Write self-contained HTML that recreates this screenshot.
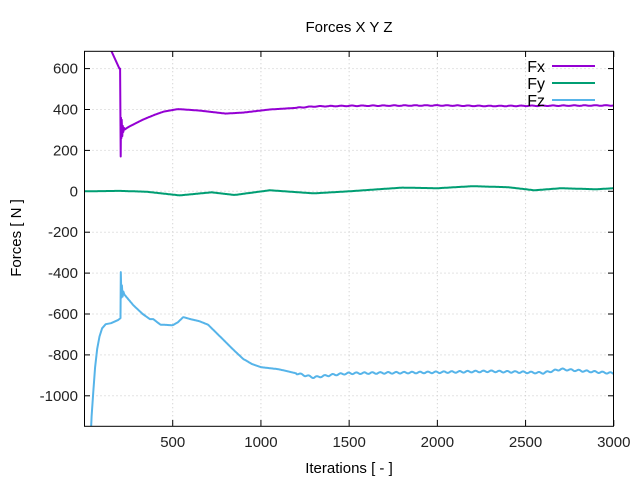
<!DOCTYPE html>
<html><head><meta charset="utf-8"><style>
body{margin:0;background:#fff;}
svg{display:block;font-family:"Liberation Sans",sans-serif;}
</style></head><body>
<svg id="s" width="640" height="480" xmlns="http://www.w3.org/2000/svg">
<rect width="640" height="480" fill="#fff"/>
<g id="grid" stroke="#c8c8c8" stroke-width="1" stroke-dasharray="1,3"></g>
<g id="ticks" font-size="15" fill="#222"></g>
<clipPath id="c"><rect x="84.5" y="51.3" width="529" height="375"/></clipPath>
<g clip-path="url(#c)" fill="none" stroke-width="2" stroke-linejoin="round">
<path id="fx" stroke="#9400d3"/>
<path id="fy" stroke="#009e73"/>
<path id="fz" stroke="#56b4e9"/>
</g>
<rect x="84.5" y="51.3" width="529" height="375" fill="none" stroke="#000" stroke-width="1"/>
<text x="349" y="32" font-size="15" text-anchor="middle">Forces X Y Z</text>
<text x="349" y="473" font-size="15" text-anchor="middle">Iterations [ - ]</text>
<text x="21" y="238" font-size="15" text-anchor="middle" transform="rotate(-90 21 238)">Forces [ N ]</text>
<g font-size="16">
<text x="545" y="72" text-anchor="end">Fx</text>
<text x="545" y="89" text-anchor="end">Fy</text>
<text x="545" y="106" text-anchor="end">Fz</text>
</g>
<line x1="552" y1="66" x2="595" y2="66" stroke="#9400d3" stroke-width="2"/>
<line x1="552" y1="83" x2="595" y2="83" stroke="#009e73" stroke-width="2"/>
<line x1="552" y1="100" x2="595" y2="100" stroke="#56b4e9" stroke-width="2"/>
</svg>
<script>
var X=function(i){return 84.5+i*0.17643;},Y=function(v){return 191.3-v*0.2045;};
var g=document.getElementById('grid'),t=document.getElementById('ticks'),ns="http://www.w3.org/2000/svg";
function el(p,n,a,tx){var e=document.createElementNS(ns,n);for(var k in a)e.setAttribute(k,a[k]);if(tx)e.textContent=tx;p.appendChild(e);return e;}
for(var v=-1000;v<=600;v+=200){var y=Y(v);el(g,'line',{x1:84.5,x2:613.5,y1:y,y2:y});
el(t,'text',{x:78,y:y+5,'text-anchor':'end'},String(v));
el(t,'line',{x1:84.5,x2:90,y1:y,y2:y,stroke:'#000'});el(t,'line',{x1:608,x2:613.5,y1:y,y2:y,stroke:'#000'});}
for(var i=500;i<=3000;i+=500){var x=X(i);if(i<3000)el(g,'line',{x1:x,x2:x,y1:51.3,y2:426});
el(t,'text',{x:x,y:447,'text-anchor':'middle'},String(i));
el(t,'line',{x1:x,x2:x,y1:426,y2:420,stroke:'#000'});el(t,'line',{x1:x,x2:x,y1:51.3,y2:57,stroke:'#000'});}
function interp(pts,i){for(var k=1;k<pts.length;k++){if(i<=pts[k][0]){var a=pts[k-1],b=pts[k];return a[1]+(b[1]-a[1])*(i-a[0])/(b[0]-a[0]);}}return pts[pts.length-1][1];}
function build(pre,smooth,start,wig,per){var d='';pre.forEach(function(p){d+=(d?'L':'M')+X(p[0]).toFixed(1)+','+Y(p[1]).toFixed(1);});
for(var i=start;i<=3000;i+=4){var v=interp(smooth,i)+(i>1200?wig*Math.sin(i/per*6.283):0);d+=(d?'L':'M')+X(i).toFixed(1)+','+Y(v).toFixed(1);}return d;}
document.getElementById('fx').setAttribute('d',build(
[[130,760],[150,690],[198,600],[202,600],[205,170],[207,360],[209,260],[211,350],[214,270],[217,320],[220,290],[224,310]],
[[224,300],[250,315],[330,350],[400,375],[450,390],[530,402],[650,395],[800,380],[900,385],[1050,400],[1200,408],[1300,415],[1500,418],[2000,420],[2300,417],[2500,418],[3000,420]],
228,1.5,60));
document.getElementById('fy').setAttribute('d',build([],
[[0,0],[200,2],[350,-2],[540,-20],[720,-5],[850,-18],[1050,5],[1300,-10],[1500,0],[1800,18],[2000,15],[2200,25],[2400,20],[2550,5],[2700,15],[2900,10],[3000,15]],
0,0,100));
document.getElementById('fz').setAttribute('d',build(
[[30,-1300],[40,-1100],[50,-980],[60,-860],[72,-770],[85,-710],[100,-670],[120,-650],[150,-645],[190,-630],[204,-620],[206,-395],[209,-520],[212,-460],[216,-515],[220,-490],[226,-505]],
[[226,-505],[280,-560],[330,-600],[370,-625],[390,-625],[430,-652],[500,-655],[530,-640],[560,-615],[600,-625],[650,-635],[700,-652],[780,-720],[850,-780],[900,-820],[950,-845],[1000,-860],[1100,-870],[1200,-890],[1300,-910],[1400,-898],[1500,-890],[2000,-885],[2300,-880],[2500,-885],[2600,-888],[2700,-870],[2850,-880],[3000,-890]],
226,4,45));
</script>
</body></html>
